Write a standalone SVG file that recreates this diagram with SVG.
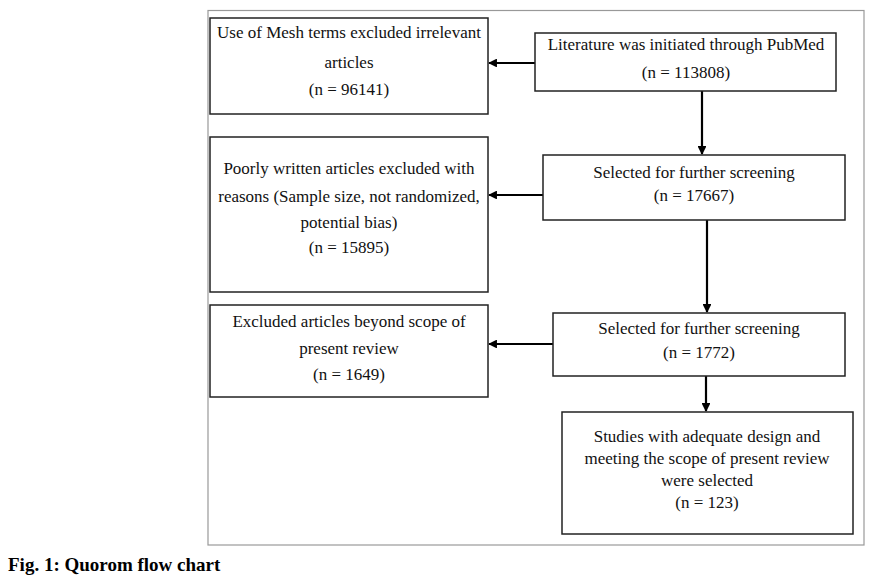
<svg xmlns="http://www.w3.org/2000/svg" width="872" height="585" viewBox="0 0 872 585">
<defs>
<style>
.box{fill:#fff;stroke:#222;stroke-width:1.5}
.frame{fill:none;stroke:#999;stroke-width:1.2}
.t{font-family:"Liberation Serif","Times New Roman",serif;font-size:17px;fill:#111;text-anchor:middle}
.cap{font-family:"Liberation Serif","Times New Roman",serif;font-size:19px;font-weight:bold;fill:#000}
.ln{stroke:#000;stroke-width:2.2;fill:none;marker-end:url(#ah)}
</style>
<marker id="ah" viewBox="0 0 10 10" refX="9" refY="5" markerWidth="4" markerHeight="4" orient="auto" markerUnits="strokeWidth">
<path d="M0,0 L10,5 L0,10 Z" fill="#000"/>
</marker>
</defs>
<rect class="frame" x="208" y="10.5" width="656" height="534.5"/>
<g id="connectors">
<line class="ln" x1="535" y1="63" x2="489" y2="63"/>
<line class="ln" x1="702" y1="91" x2="702" y2="154"/>
<line class="ln" x1="543" y1="195" x2="489" y2="195"/>
<line class="ln" x1="707" y1="220" x2="707" y2="312"/>
<line class="ln" x1="553" y1="344" x2="489" y2="344"/>
<line class="ln" x1="706" y1="376" x2="706" y2="411"/>
</g>
<g id="mesh">
<rect class="box" x="210" y="18" width="278" height="96"/>
<text class="t" x="349" y="38">Use of Mesh terms excluded irrelevant</text>
<text class="t" x="349" y="68">articles</text>
<text class="t" x="349" y="95">(n = 96141)</text>
</g>
<g id="pubmed">
<rect class="box" x="535" y="33" width="301" height="58"/>
<text class="t" x="686" y="50">Literature was initiated through PubMed</text>
<text class="t" x="686" y="78">(n = 113808)</text>
</g>
<g id="selected1">
<rect class="box" x="543" y="155" width="302" height="65"/>
<text class="t" x="694" y="178">Selected for further screening</text>
<text class="t" x="694" y="201">(n = 17667)</text>
</g>
<g id="poorly">
<rect class="box" x="210" y="137" width="278" height="155"/>
<text class="t" x="349" y="174">Poorly written articles excluded with</text>
<text class="t" x="349" y="202">reasons (Sample size, not randomized,</text>
<text class="t" x="349" y="228">potential bias)</text>
<text class="t" x="349" y="253">(n = 15895)</text>
</g>
<g id="selected2">
<rect class="box" x="553" y="313" width="292" height="63"/>
<text class="t" x="699" y="334">Selected for further screening</text>
<text class="t" x="699" y="358">(n = 1772)</text>
</g>
<g id="excluded">
<rect class="box" x="210" y="305" width="278" height="92"/>
<text class="t" x="349" y="327">Excluded articles beyond scope of</text>
<text class="t" x="349" y="354">present review</text>
<text class="t" x="349" y="380">(n = 1649)</text>
</g>
<g id="studies">
<rect class="box" x="562" y="412" width="291" height="122"/>
<text class="t" x="707" y="442">Studies with adequate design and</text>
<text class="t" x="707" y="464">meeting the scope of present review</text>
<text class="t" x="707" y="486">were selected</text>
<text class="t" x="707" y="508">(n = 123)</text>
</g>
<text class="cap" x="8" y="571">Fig. 1: Quorom flow chart</text>
</svg>
